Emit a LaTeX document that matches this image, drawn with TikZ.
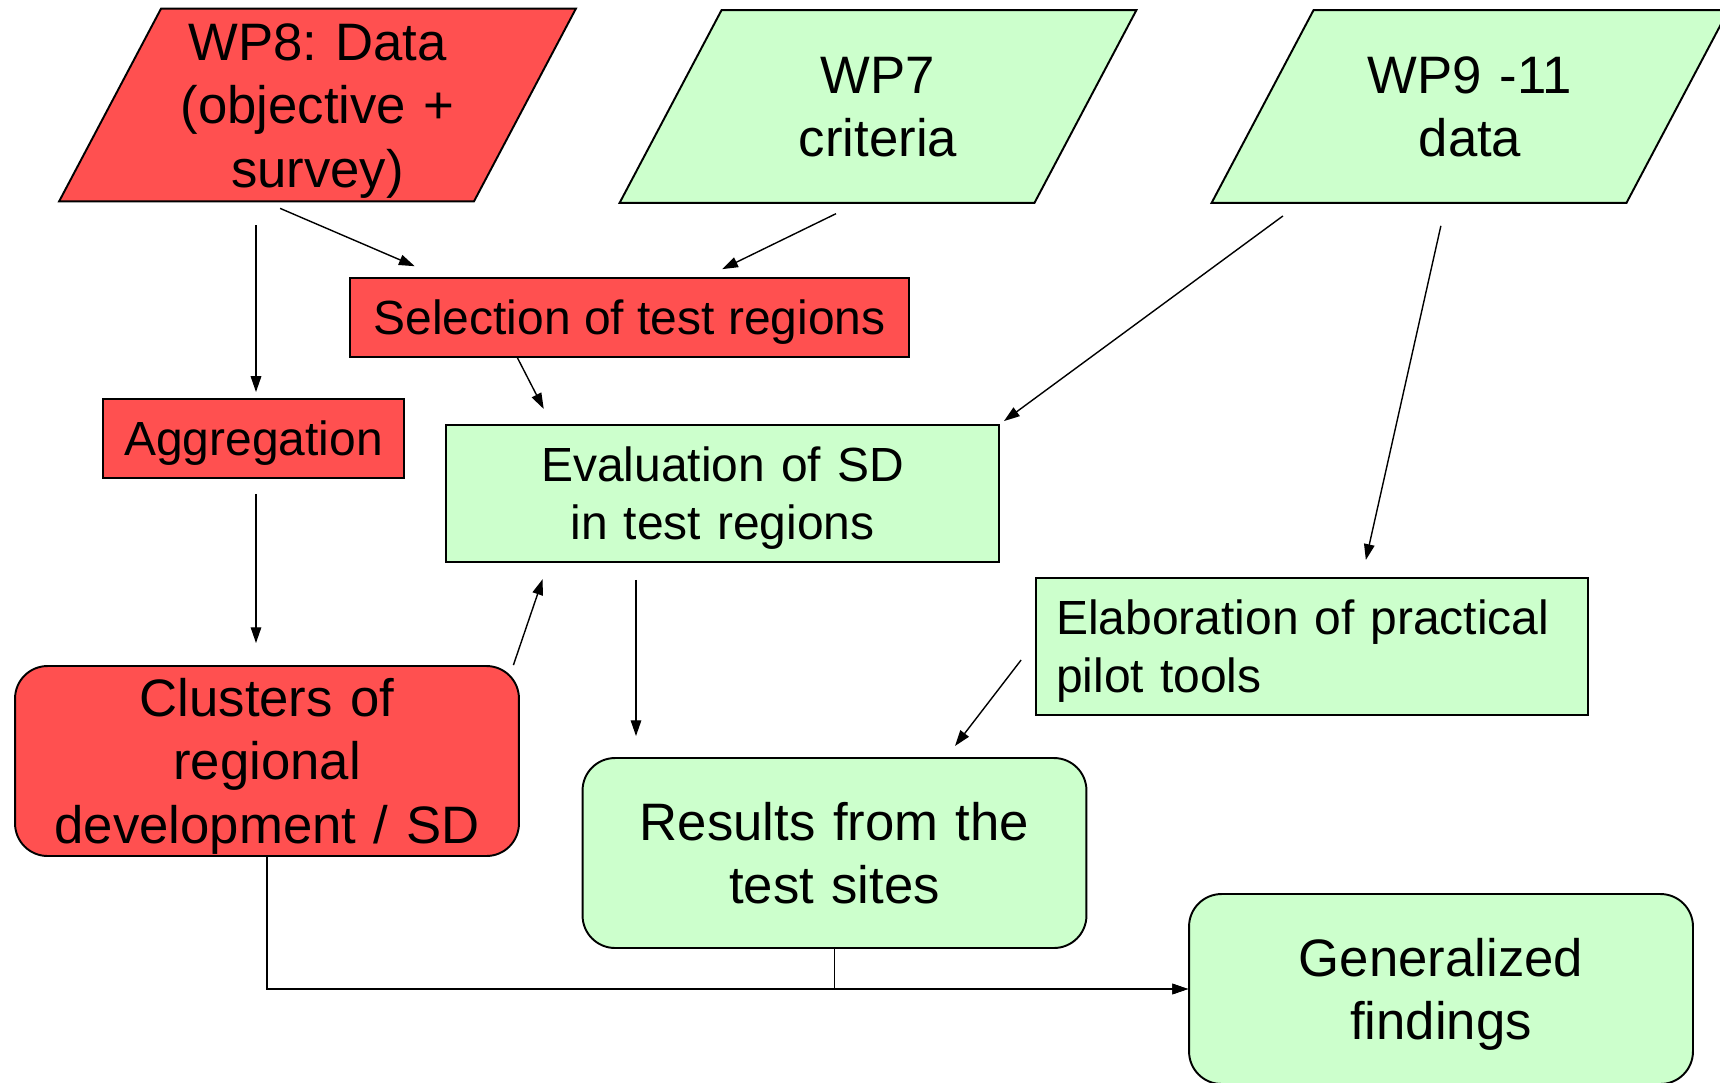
\documentclass[tikz,border=0pt]{standalone}
\usepackage{fontspec}
\setmainfont{Liberation Sans}
\usetikzlibrary{arrows.meta,calc,backgrounds}
\definecolor{wpred}{RGB}{255,80,80}
\definecolor{wpgreen}{RGB}{204,255,204}
\frenchspacing
% invisible line strut: one baselineskip high, centred on the cap height
\newcommand\wpstrut{\rule[\dimexpr0.358em-0.5\baselineskip\relax]{0pt}{\baselineskip}}
\begin{document}
\begin{tikzpicture}[
x=0.02cm, y=-0.02cm,
every node/.style={
draw,
line width=1.1pt,
align=center,
inner sep=0pt
},
bigtext/.style={font=\fontsize{30}{36}\selectfont, execute at begin node=\wpstrut, execute at end node=\wpstrut},
smalltext/.style={font=\fontsize{27.3}{33}\selectfont, execute at begin node=\wpstrut, execute at end node=\wpstrut},
wpbox/.style={draw=none, minimum width=8.26cm, minimum height=3.82cm, text width=8.26cm, bigtext},
taskbox/.style={rectangle, minimum height=1.58cm, smalltext},
resultbox/.style={rectangle, rounded corners=0.65cm, minimum width=10.08cm, minimum height=3.8cm, text width=10.08cm, bigtext},
arr/.style={-{Triangle[length=9pt,width=6pt]}, line width=0.8pt}
]
\useasboundingbox (0,0) rectangle (1720,1082);

\node[wpbox] (wp8) at (317.5,105) {WP8: Data\\(objective +\\survey)};
\node[wpbox] (wp7) at (878,106.5) {WP7\\criteria};
\node[wpbox] (wp9) at (1470,106.5) {WP9 -11\\data};
\node[taskbox, fill=wpred, minimum width=11.18cm] (sel) at (629.5,317.5) {Selection of test regions};
\node[taskbox, fill=wpred, minimum width=6.02cm] (agg) at (253.5,438.5) {Aggregation};
\node[taskbox, fill=wpgreen, minimum width=11.06cm, minimum height=2.74cm, text width=11.06cm] (eval) at (722.5,493.5) {Evaluation of SD\\in test regions};
\node[taskbox, fill=wpgreen, minimum height=2.74cm, text width=10.24cm, inner xsep=0.4cm, align=left] (elab) at (1312,646.5) {Elaboration of practical\\pilot tools};
\node[resultbox, fill=wpred] (clus) at (267,761) {Clusters of\\regional\\development / SD};
\node[resultbox, fill=wpgreen] (res) at (834.5,853) {Results from the\\test sites};
\node[resultbox, fill=wpgreen] (gen) at (1441,989) {Generalized\\findings};

% parallelograms behind the input nodes
\begin{scope}[on background layer]
\foreach \n/\c in {wp8/wpred, wp7/wpgreen, wp9/wpgreen}
  \filldraw[fill=\c, line width=1.1pt] ($(\n.south west)+(-51,0)$) -- ($(\n.south east)+(-51,0)$) -- ($(\n.north east)+(51,0)$) -- ($(\n.north west)+(51,0)$) -- cycle;
\end{scope}

% inputs
\draw[arr, shorten <=0.48cm, shorten >=0.12cm] ($(agg.north |- wp8.south)+(2.5,0)$) -- ($(agg.north)+(2.5,0)$);
\draw[arr, shorten <=0.35cm, shorten >=0.55cm] ($(wp8.south)+(-53.5,0)$) -- ($(sel.north)+(-189.5,0)$);
\draw[arr, shorten <=0.49cm, shorten >=0.36cm] ($(wp7.south)+(-20,0)$) -- ($(sel.north)+(76.5,0)$);
\draw[arr, shorten <=0.44cm, shorten >=0.1cm] ($(wp9.south)+(-169.4,0)$) -- (eval.north east);
\draw[arr, shorten <=0.47cm, shorten >=0.35cm] ($(wp9.south)+(-24,0)$) -- ($(elab.north)+(50,0)$);
% middle
\draw[arr, shorten >=0.34cm] ($(sel.south)+(-112,0)$) -- ($(eval.north)+(-171,0)$);
\draw[arr, shorten <=0.3cm, shorten >=0.44cm] ($(agg.south)+(2.5,0)$) -- ($(agg.south |- clus.north)+(2.5,0)$);
\draw[arr, shorten >=0.34cm] ($(clus.north)+(246.4,0)$) -- ($(eval.south)+(-174.3,0)$);
\draw[arr, shorten <=0.34cm, shorten >=0.42cm] ($(eval.south)+(-86.5,0)$) -- ($(res.north)+(-198.5,0)$);
\draw[arr, shorten <=0.46cm, shorten >=0.28cm] ($(elab.west)+(0,-4.7)$) -- ($(res.north)+(112,0)$);
% outputs
\draw[arr] (clus.south) |- (gen.west);
\draw[arr] (res.south) |- (gen.west);

\end{tikzpicture}
\end{document}
